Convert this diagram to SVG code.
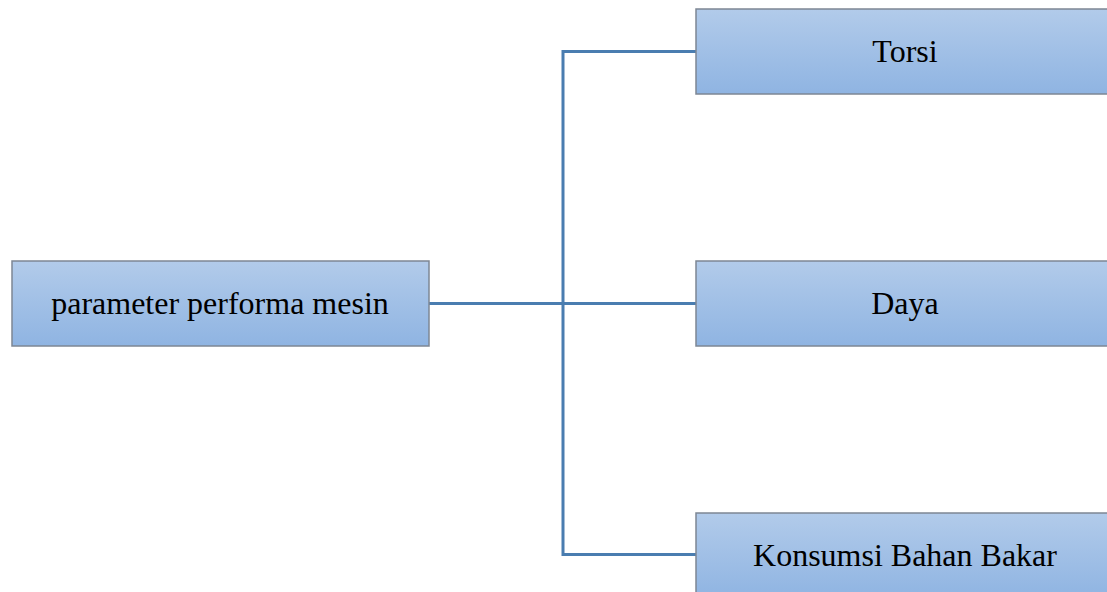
<svg xmlns="http://www.w3.org/2000/svg" width="1107" height="592" viewBox="0 0 1107 592">
<defs>
<linearGradient id="g" x1="0" y1="0" x2="0" y2="1">
<stop offset="0" stop-color="#b2cbea"/>
<stop offset="1" stop-color="#8fb4e2"/>
</linearGradient>
<style>
.box{fill:url(#g);stroke:#7d8794;stroke-width:1.5}
.lbl{font-family:"Liberation Serif","Times New Roman",serif;font-size:32px;fill:#000;text-anchor:middle}
.conn{fill:none;stroke:#4a7db0;stroke-width:3}
</style>
</defs>
<rect width="1107" height="592" fill="#fff"/>
<g id="connectors">
<path class="conn" d="M429 303.5H696"/>
<path class="conn" d="M696 51.5H563V554.5H696"/>
</g>
<g id="node-parameter">
<rect class="box" x="12" y="261" width="417" height="85"/>
<text class="lbl" x="220" y="314">parameter performa mesin</text>
</g>
<g id="node-torsi">
<rect class="box" x="696" y="9" width="418" height="85"/>
<text class="lbl" x="905" y="62">Torsi</text>
</g>
<g id="node-daya">
<rect class="box" x="696" y="261" width="418" height="85"/>
<text class="lbl" x="905" y="314">Daya</text>
</g>
<g id="node-konsumsi">
<rect class="box" x="696" y="513" width="418" height="85"/>
<text class="lbl" x="905" y="566">Konsumsi Bahan Bakar</text>
</g>
</svg>
